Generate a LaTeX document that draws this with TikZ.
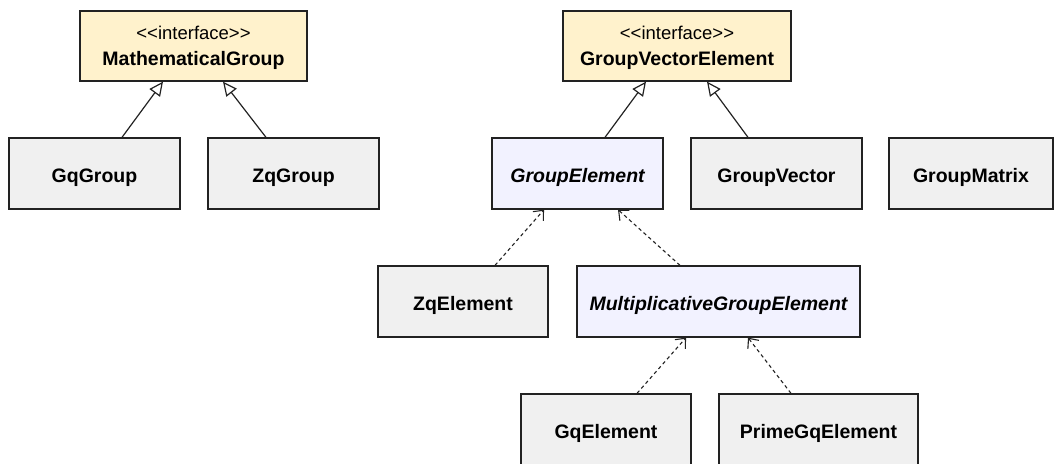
\documentclass[tikz,border=0pt]{standalone}
\usepackage{fontspec}
\setmainfont{Liberation Sans}
\usetikzlibrary{arrows.meta}
\definecolor{ifill}{HTML}{FFF2CC}
\definecolor{afill}{HTML}{F2F2FF}
\definecolor{cfill}{HTML}{F0F0F0}
\definecolor{edgec}{HTML}{222222}
\begin{document}
\begin{tikzpicture}[x=1pt,y=-1pt,
 box/.style={draw=edgec, line width=1.3pt, inner sep=0pt, minimum height=71pt, text height=17pt, text depth=0pt, font=\fontsize{19.5}{23}\selectfont\bfseries},
 cls/.style={box, fill=cfill},
 abscls/.style={box, fill=afill, font=\fontsize{19.5}{23}\selectfont\bfseries\itshape},
 iface/.style={draw=edgec, line width=1.3pt, fill=ifill, inner sep=0pt, minimum height=70pt},
 lbl/.style={anchor=base, inner sep=0pt},
 stereo/.style={lbl, font=\fontsize{18.5}{22}\selectfont},
 iname/.style={lbl, font=\fontsize{19.5}{23}\selectfont\bfseries},
 real/.style={line width=1.2pt, draw=edgec, -{Triangle[open, length=14pt, width=13pt, fill=white]}},
 dep/.style={line width=1.1pt, draw=edgec, dash pattern=on 3.5pt off 3pt, -{Straight Barb[length=8pt, width=14pt]}}
]
\clip (0,0) rectangle (1054,463);
% interfaces
\node[iface, minimum width=227pt] (mg) at (193.5,46) {};
\node[stereo] (mgs) at ([yshift=7pt]mg.center) {<{}<interface>{}>};
\node[iname] (mgn) at ([yshift=-19pt]mg.center) {MathematicalGroup};
\node[iface, minimum width=228pt] (gve) at (677,46) {};
\node[stereo] (gves) at ([yshift=7pt]gve.center) {<{}<interface>{}>};
\node[iname] (gven) at ([yshift=-19pt]gve.center) {GroupVectorElement};
% row 2
\node[cls, minimum width=171pt] (gqg) at (94.5,173.5) {GqGroup};
\node[cls, minimum width=171pt] (zqg) at (293.5,173.5) {ZqGroup};
\node[abscls, minimum width=171pt] (ge) at (577.5,173.5) {GroupElement};
\node[cls, minimum width=171pt] (gv) at (776.5,173.5) {GroupVector};
\node[cls, minimum width=164pt] (gm) at (971,173.5) {GroupMatrix};
% row 3
\node[cls, minimum width=170pt] (ze) at (463,301.5) {ZqElement};
\node[abscls, minimum width=283pt] (mge) at (718.5,301.5) {MultiplicativeGroupElement};
% row 4
\node[cls, minimum width=170pt] (gqe) at (606,429.5) {GqElement};
\node[cls, minimum width=199pt] (pge) at (818.5,429.5) {PrimeGqElement};
% realizations
\draw[real] ([xshift=27.5pt]gqg.north) -- ([xshift=-30.5pt]mg.south);
\draw[real] ([xshift=-27.5pt]zqg.north) -- ([xshift=29.5pt]mg.south);
\draw[real] ([xshift=27.5pt]ge.north) -- ([xshift=-31pt]gve.south);
\draw[real] ([xshift=-28.5pt]gv.north) -- ([xshift=30pt]gve.south);
% dependencies
\draw[dep] ([xshift=32pt]ze.north) -- ([xshift=-33.5pt]ge.south);
\draw[dep] ([xshift=-38.5pt]mge.north) -- ([xshift=40.5pt]ge.south);
\draw[dep] ([xshift=31pt]gqe.north) -- ([xshift=-32.5pt]mge.south);
\draw[dep] ([xshift=-27.5pt]pge.north) -- ([xshift=29.5pt]mge.south);
\end{tikzpicture}
\end{document}
